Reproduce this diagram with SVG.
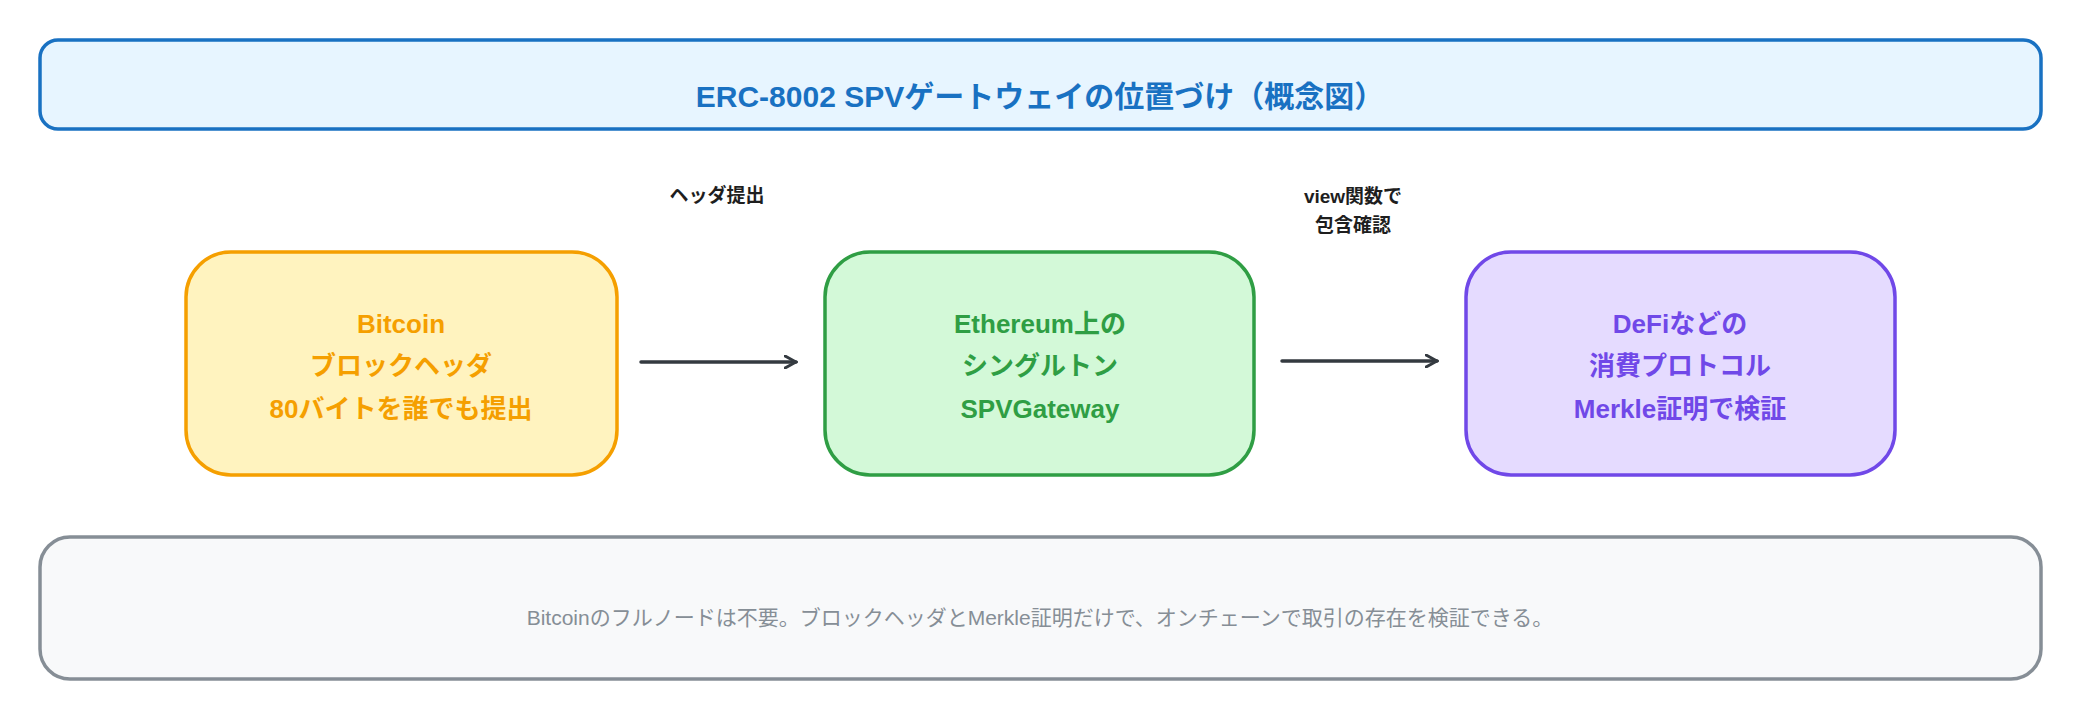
<svg xmlns="http://www.w3.org/2000/svg" width="2080" height="720" viewBox="0 0 2080 720">
<style>
text{font-family:"Liberation Sans","Noto Sans CJK JP",sans-serif;text-anchor:middle;dominant-baseline:central}
.box{stroke-width:3.5;stroke-linejoin:round}
.nt{font-size:26px;font-weight:bold}
.lb{font-size:19px;fill:#1e1e1e;font-weight:bold}
.con{stroke:#343a40;stroke-width:3.5;fill:none;stroke-linecap:round}
</style>
<defs>
<marker id="ah" markerWidth="14" markerHeight="14" refX="12" refY="7" orient="auto" markerUnits="userSpaceOnUse">
<path d="M1,1 L12,7 L1,13" fill="none" stroke="#343a40" stroke-width="3" stroke-linecap="round"/>
</marker>
</defs>
<g id="title">
<rect class="box" x="40" y="40" width="2001" height="89" rx="18" fill="#e7f5ff" stroke="#1971c2"/>
<text x="1040" y="96" font-size="30" font-weight="bold" fill="#1971c2">ERC-8002 SPVゲートウェイの位置づけ（概念図）</text>
</g>
<g id="bitcoin">
<rect class="box" x="186" y="252" width="431" height="223" rx="45" fill="#fff3bf" stroke="#f59f00"/>
<text class="nt" fill="#f59f00" x="401" y="324">Bitcoin</text>
<text class="nt" fill="#f59f00" x="401" y="366">ブロックヘッダ</text>
<text class="nt" fill="#f59f00" x="401" y="409">80バイトを誰でも提出</text>
</g>
<g id="gateway">
<rect class="box" x="825" y="252" width="429" height="223" rx="45" fill="#d3f9d8" stroke="#2f9e44"/>
<text class="nt" fill="#2f9e44" x="1040" y="324">Ethereum上の</text>
<text class="nt" fill="#2f9e44" x="1040" y="366">シングルトン</text>
<text class="nt" fill="#2f9e44" x="1040" y="409">SPVGateway</text>
</g>
<g id="defi">
<rect class="box" x="1466" y="252" width="429" height="223" rx="45" fill="#e5dbff" stroke="#7048e8"/>
<text class="nt" fill="#7048e8" x="1680" y="324">DeFiなどの</text>
<text class="nt" fill="#7048e8" x="1680" y="366">消費プロトコル</text>
<text class="nt" fill="#7048e8" x="1680" y="409">Merkle証明で検証</text>
</g>
<g id="note">
<rect class="box" x="40" y="537" width="2001" height="142" rx="30" fill="#f8f9fa" stroke="#868e96"/>
<text x="1040" y="617" font-size="21" fill="#868e96">Bitcoinのフルノードは不要。ブロックヘッダとMerkle証明だけで、オンチェーンで取引の存在を検証できる。</text>
</g>
<g id="connectors">
<line class="con" x1="641" y1="362" x2="796" y2="362" marker-end="url(#ah)"/>
<line class="con" x1="1282" y1="361" x2="1437" y2="361" marker-end="url(#ah)"/>
<text class="lb" x="717" y="195">ヘッダ提出</text>
<text class="lb" x="1353" y="196">view関数で</text>
<text class="lb" x="1353" y="225">包含確認</text>
</g>
</svg>
